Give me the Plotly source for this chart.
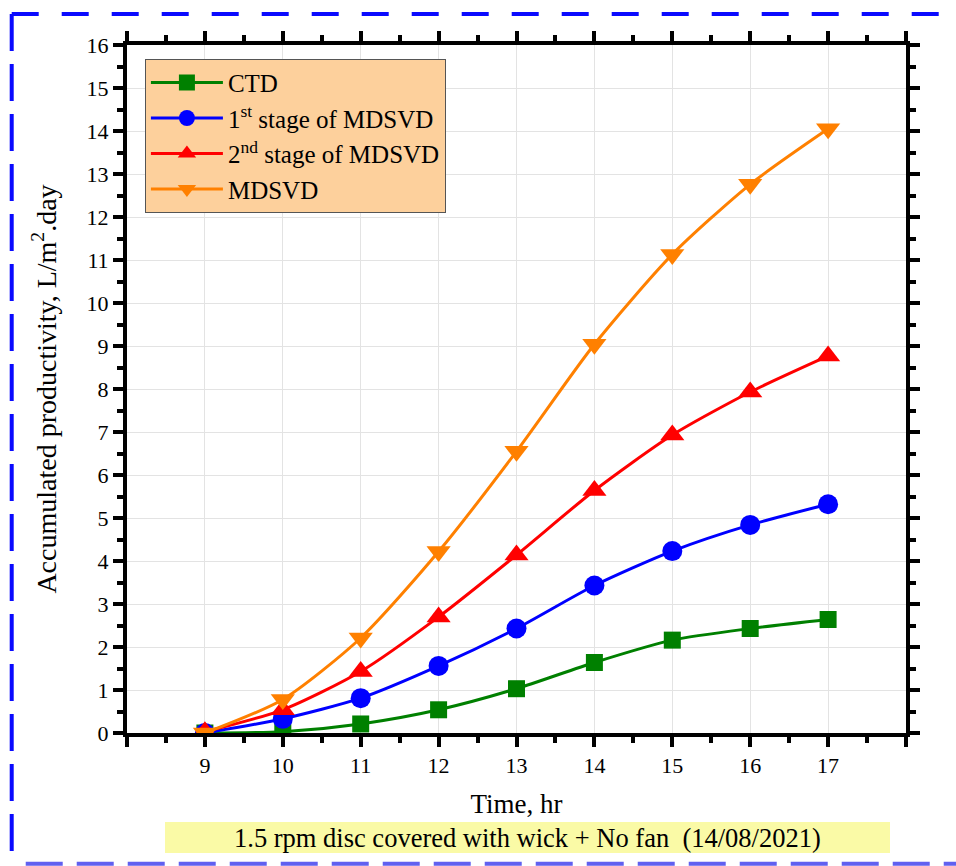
import plotly.graph_objects as go

hours = [9, 10, 11, 12, 13, 14, 15, 16, 17]
ctd = [0.0, 0.03, 0.21, 0.54, 1.03, 1.64, 2.16, 2.43, 2.64]
stage1 = [0.0, 0.33, 0.81, 1.56, 2.43, 3.43, 4.23, 4.84, 5.32]
stage2 = [0.03, 0.54, 1.43, 2.70, 4.14, 5.64, 6.93, 7.93, 8.77]
mdsvd = [0.0, 0.78, 2.21, 4.22, 6.55, 9.04, 11.13, 12.76, 14.05]

x_tickvals = [8, 9, 10, 11, 12, 13, 14, 15, 16, 17, 18]
x_ticktext = ["", "9", "10", "11", "12", "13", "14", "15", "16", "17", ""]
y_tickvals = list(range(0, 17))

series = [
    ("CTD", ctd, "#008000", "square", 17),
    ("1<sup>st</sup> stage of MDSVD", stage1, "#0000ff", "circle", 20),
    ("2<sup>nd</sup> stage of MDSVD", stage2, "#ff0000", "triangle-up", 21),
    ("MDSVD", mdsvd, "#ff8000", "triangle-down", 21),
]

FONT = "Liberation Serif, Times New Roman, serif"

fig = go.Figure()
for name, vals, col, sym, sz in series:
    fig.add_trace(go.Scatter(
        x=hours, y=vals, name=name, mode="lines+markers",
        line=dict(color=col, width=3, shape="spline", smoothing=0.7),
        marker=dict(symbol=sym, size=sz, color=col),
    ))

axis_common = dict(
    showline=True, linecolor="black", linewidth=4, mirror="allticks",
    ticks="outside", ticklen=10, tickwidth=4, tickcolor="black",
    showgrid=True, gridcolor="#e3e3e3", gridwidth=1, zeroline=False,
    tickfont=dict(family=FONT, size=22, color="black"),
)

fig.update_xaxes(
    range=[8, 18], tickvals=x_tickvals, ticktext=x_ticktext,
    minor=dict(dtick=0.5, ticks="outside", ticklen=6, tickwidth=4, tickcolor="black", showgrid=False),
    title=dict(text="Time, hr", font=dict(family=FONT, size=27, color="black"), standoff=18),
    **axis_common,
)
fig.update_yaxes(
    range=[0, 16], tickvals=y_tickvals,
    minor=dict(dtick=0.5, ticks="outside", ticklen=6, tickwidth=4, tickcolor="black", showgrid=False),
    title=dict(text="Accumulated productivity, L/m<sup>2</sup>.day",
               font=dict(family=FONT, size=28, color="black"), standoff=23),
    **axis_common,
)

# Page border (dashed blue) and caption box
shapes = [
    dict(type="line", xref="paper", yref="paper", x0=-0.148, x1=1.1, y0=1.045, y1=1.045,
         line=dict(color="#0a0aff", width=4, dash="27px,23px")),
    dict(type="line", xref="paper", yref="paper", x0=-0.148, x1=-0.148, y0=1.045, y1=-0.19,
         line=dict(color="#0a0aff", width=4, dash="37px,13px")),
    dict(type="line", xref="paper", yref="paper", x0=-0.13, x1=1.1, y0=-0.19, y1=-0.19,
         line=dict(color="#6060f0", width=4, dash="37px,14px")),
    dict(type="rect", xref="paper", yref="paper", x0=(165 - 127) / 779, x1=(890 - 127) / 779,
         y0=(733 - 853) / 688, y1=(733 - 822) / 688,
         fillcolor="#fafaa6", line=dict(width=0), layer="below"),
]

fig.update_layout(
    width=956, height=866,
    margin=dict(l=127, r=50, t=45, b=133),
    paper_bgcolor="white", plot_bgcolor="white",
    font=dict(family=FONT, color="black"),
    shapes=shapes,
    showlegend=True,
    legend=dict(
        x=0.023, y=0.98, xanchor="left", yanchor="top",
        bgcolor="#fdd09c", bordercolor="#555555", borderwidth=1,
        font=dict(family=FONT, size=25, color="black"),
        tracegroupgap=0, itemwidth=72,
    ),
    annotations=[
        dict(text="1.5 rpm disc covered with wick + No fan  (14/08/2021)",
             xref="paper", yref="paper", x=(527 - 127) / 779, y=(733 - 837.5) / 688,
             xanchor="center", yanchor="middle", showarrow=False,
             font=dict(family=FONT, size=26.5, color="black")),
    ],
)

fig.write_html("out.html")
